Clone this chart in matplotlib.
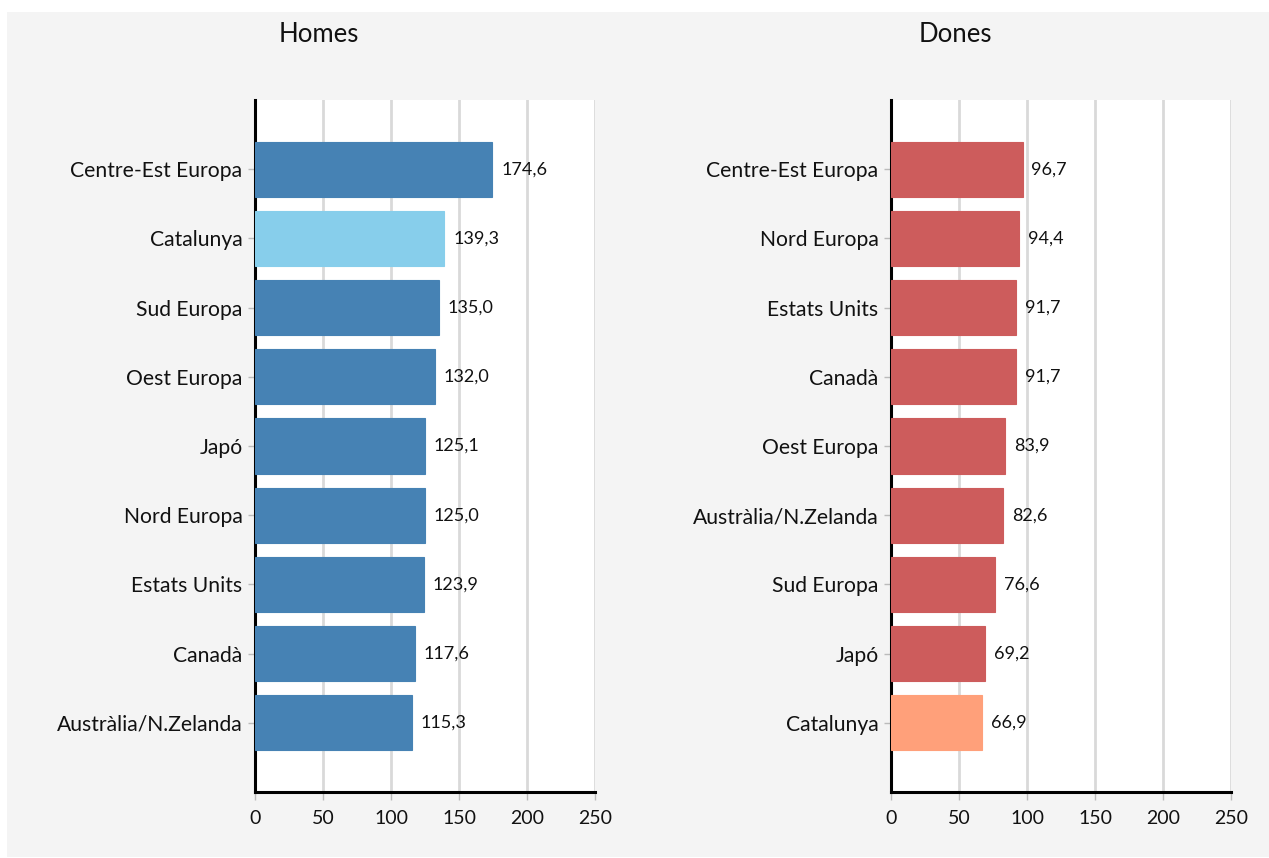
import matplotlib
matplotlib.use("Agg")
import matplotlib.pyplot as plt
from matplotlib.patches import Rectangle

plt.rcParams['font.family'] = ['Lato', 'DejaVu Sans']

homes_labels = ["Centre-Est Europa", "Catalunya", "Sud Europa", "Oest Europa", "Japó",
                "Nord Europa", "Estats Units", "Canadà", "Austràlia/N.Zelanda"]
homes_values = [174.6, 139.3, 135.0, 132.0, 125.1, 125.0, 123.9, 117.6, 115.3]

dones_labels = ["Centre-Est Europa", "Nord Europa", "Estats Units", "Canadà", "Oest Europa",
                "Austràlia/N.Zelanda", "Sud Europa", "Japó", "Catalunya"]
dones_values = [96.7, 94.4, 91.7, 91.7, 83.9, 82.6, 76.6, 69.2, 66.9]

x_ticks = [0, 50, 100, 150, 200, 250]

W, H = 1269, 858
fig = plt.figure(figsize=(W / 100, H / 100), dpi=100)
fig.patch.set_facecolor("white")
fig.add_artist(Rectangle((7 / W, 1 - 857 / H), (W - 7) / W, (857 - 12) / H,
                         transform=fig.transFigure, facecolor="#f4f4f4",
                         edgecolor="none", zorder=-10))


def panel(x0, labels, values, base, highlight, title, title_x):
    ax = fig.add_axes([x0 / W, 1 - 792 / H, 340 / W, 692 / H])
    ax.set_facecolor("white")
    colors = [highlight if l == "Catalunya" else base for l in labels]
    ys = list(range(len(labels)))
    ax.barh(ys, values, height=0.8, color=colors, edgecolor=colors, linewidth=0.8, zorder=3)
    for y, v in zip(ys, values):
        ax.text(v + 6.5, y, f"{v:.1f}".replace(".", ","), va="center", ha="left",
                fontsize=13, color="#111111", zorder=4)
    ax.set_xlim(0, 250)
    ax.set_ylim(9, -1)
    ax.set_yticks(ys)
    ax.set_yticklabels(labels, fontsize=15.2, color="#111111")
    ax.set_xticks(x_ticks)
    ax.set_xticklabels([str(t) for t in x_ticks], fontsize=14, color="#111111")
    ax.grid(axis="x", color="#d9d9d9", linewidth=2, zorder=0)
    ax.set_axisbelow(True)
    for s in ["top", "right"]:
        ax.spines[s].set_visible(False)
    ax.spines["left"].set_linewidth(2.2)
    ax.spines["bottom"].set_linewidth(2.2)
    ax.spines["left"].set_color("black")
    ax.spines["bottom"].set_color("black")
    ax.tick_params(axis="y", length=5, width=1, color="#bbbbbb", pad=4)
    ax.tick_params(axis="x", length=6, width=1, color="#bbbbbb", pad=7)
    fig.text(title_x / W, 1 - 34 / H, title, ha="center", va="center", fontsize=18.5,
             color="#111111")
    return ax


panel(255, homes_labels, homes_values, "#4682b4", "#87ceeb", "Homes", 319)
panel(891, dones_labels, dones_values, "#cd5c5c", "#ffa07a", "Dones", 955)

fig.savefig("out.png", dpi=100, facecolor="white")
